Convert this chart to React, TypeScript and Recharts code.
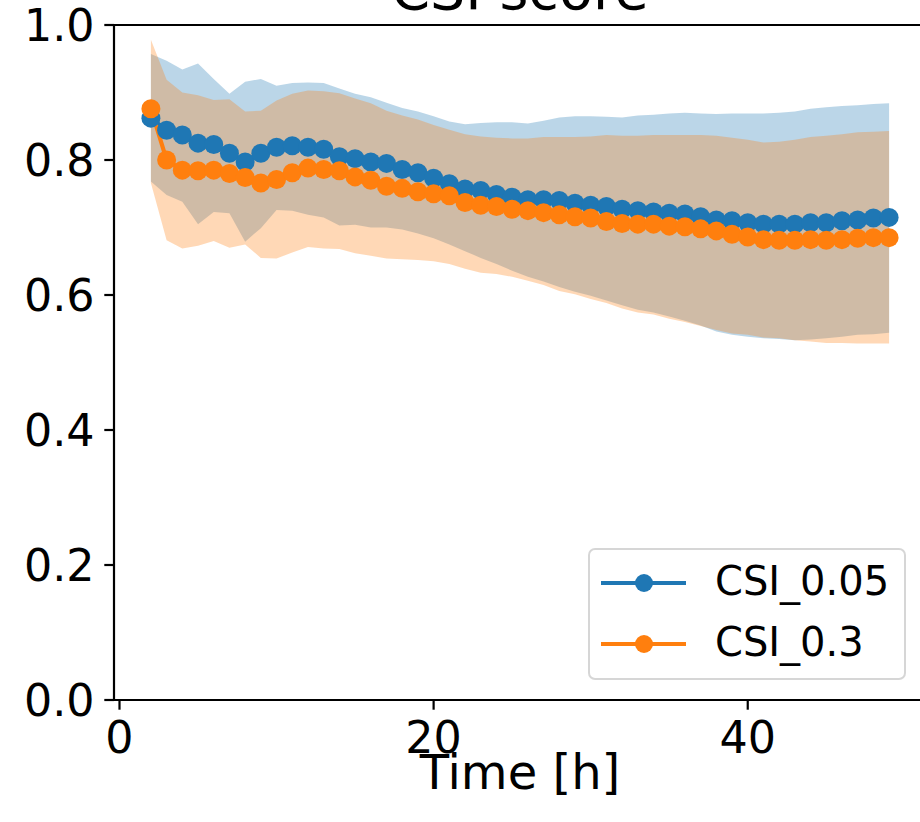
import {
  Area,
  ComposedChart,
  Label,
  Legend,
  Line,
  ReferenceLine,
  XAxis,
  YAxis,
} from "recharts";

// hours on the x axis (one point per hour)
const HOURS = [
  2, 3, 4, 5, 6, 7, 8, 9, 10, 11, 12, 13, 14, 15, 16, 17, 18, 19, 20, 21, 22, 23, 24, 25,
  26, 27, 28, 29, 30, 31, 32, 33, 34, 35, 36, 37, 38, 39, 40, 41, 42, 43, 44, 45, 46, 47,
  48, 49,
];

// CSI_0.05 mean and spread
const CSI_005 = [
  0.862, 0.844, 0.837, 0.825, 0.823, 0.81, 0.797, 0.81, 0.819, 0.821, 0.819, 0.816, 0.805,
  0.802, 0.797, 0.795, 0.786, 0.781, 0.773, 0.765, 0.757, 0.755, 0.749, 0.745, 0.741, 0.741,
  0.74, 0.736, 0.733, 0.731, 0.727, 0.725, 0.723, 0.721, 0.72, 0.716, 0.711, 0.71, 0.707,
  0.705, 0.705, 0.705, 0.707, 0.707, 0.71, 0.711, 0.714, 0.715,
];
const CSI_005_HIGH = [
  0.957, 0.947, 0.934, 0.943, 0.92, 0.898, 0.916, 0.92, 0.91, 0.914, 0.915, 0.914, 0.906,
  0.898, 0.893, 0.885, 0.877, 0.872, 0.865, 0.857, 0.853, 0.855, 0.856, 0.856, 0.854, 0.858,
  0.863, 0.865, 0.865, 0.864, 0.863, 0.866, 0.867, 0.869, 0.87, 0.869, 0.868, 0.869, 0.869,
  0.869, 0.87, 0.872, 0.876, 0.878, 0.88, 0.881, 0.883, 0.884,
];
const CSI_005_LOW = [
  0.768, 0.748, 0.738, 0.705, 0.723, 0.721, 0.679, 0.699, 0.726, 0.725, 0.719, 0.715, 0.703,
  0.704, 0.7, 0.7, 0.697, 0.691, 0.684, 0.675, 0.665, 0.655, 0.646, 0.636, 0.627, 0.62,
  0.612, 0.605, 0.599, 0.592, 0.585, 0.578, 0.574, 0.568, 0.562, 0.555, 0.546, 0.541, 0.538,
  0.536, 0.535, 0.533, 0.534, 0.536, 0.538, 0.541, 0.542, 0.544,
];

// CSI_0.3 mean and spread
const CSI_03 = [
  0.876, 0.8, 0.785, 0.784, 0.785, 0.78, 0.774, 0.766, 0.771, 0.781, 0.788, 0.786, 0.784,
  0.775, 0.77, 0.761, 0.758, 0.753, 0.75, 0.747, 0.737, 0.733, 0.731, 0.727, 0.725, 0.722,
  0.719, 0.716, 0.714, 0.709, 0.706, 0.705, 0.705, 0.702, 0.701, 0.698, 0.695, 0.69, 0.686,
  0.682, 0.681, 0.681, 0.682, 0.681, 0.682, 0.684, 0.685, 0.685,
];
const CSI_03_HIGH = [
  0.978, 0.919, 0.9, 0.896, 0.889, 0.89, 0.872, 0.873, 0.888, 0.898, 0.903, 0.902, 0.899,
  0.891, 0.884, 0.873, 0.866, 0.86, 0.852, 0.845, 0.838, 0.835, 0.833, 0.832, 0.832, 0.834,
  0.834, 0.834, 0.835, 0.837, 0.836, 0.836, 0.837, 0.837, 0.837, 0.837, 0.836, 0.833, 0.83,
  0.826, 0.827, 0.83, 0.834, 0.836, 0.838, 0.841, 0.842, 0.843,
];
const CSI_03_LOW = [
  0.766, 0.681, 0.669, 0.673, 0.68, 0.67, 0.675, 0.655, 0.654, 0.663, 0.671, 0.669, 0.668,
  0.662, 0.658, 0.654, 0.653, 0.652, 0.65, 0.646, 0.639, 0.633, 0.631, 0.627, 0.621, 0.615,
  0.606, 0.601, 0.594, 0.588, 0.58, 0.574, 0.571, 0.565, 0.56, 0.554, 0.548, 0.543, 0.541,
  0.537, 0.536, 0.533, 0.531, 0.529, 0.529, 0.528, 0.528, 0.528,
];

const X_TICKS = [0, 20, 40];
const Y_TICKS = [0, 0.2, 0.4, 0.6, 0.8, 1.0];

const BLUE = "#1f77b4";
const ORANGE = "#ff7f0e";
const FONT = "DejaVu Sans";
const DOT_R = 9.5;

const SERIES = [
  { name: "CSI_0.05", color: BLUE },
  { name: "CSI_0.3", color: ORANGE },
];

const data = HOURS.map((h, i) => ({
  hour: h,
  csi005: CSI_005[i],
  csi03: CSI_03[i],
  band005: [CSI_005_LOW[i], CSI_005_HIGH[i]],
  band03: [CSI_03_LOW[i], CSI_03_HIGH[i]],
}));

const tickStyle = { fill: "#000", fontSize: 44.4, fontFamily: FONT };
const axisStroke = { stroke: "#000", strokeWidth: 2.2 };

function LegendBox() {
  return (
    <div
      style={{
        position: "relative",
        boxSizing: "border-box",
        width: 318,
        height: 132,
        border: "2px solid rgba(204,204,204,0.8)",
        borderRadius: 7,
        background: "rgba(255,255,255,0.8)",
        fontFamily: FONT,
        fontSize: 40,
        color: "#000",
      }}
    >
      {SERIES.map((s, i) => (
        <div key={s.name}>
          <svg
            width={90}
            height={24}
            style={{ position: "absolute", left: 11, top: 21 + i * 61 }}
          >
            <line x1={0} y1={12} x2={85} y2={12} stroke={s.color} strokeWidth={4.2} />
            <circle cx={43} cy={12} r={9} fill={s.color} />
          </svg>
          <span
            style={{
              position: "absolute",
              left: 125,
              top: 8 + i * 61,
              lineHeight: "normal",
              whiteSpace: "nowrap",
            }}
          >
            {s.name}
          </span>
        </div>
      ))}
    </div>
  );
}

export default function App() {
  return (
    <div
      style={{
        position: "absolute",
        left: 0,
        top: 0,
        width: 920,
        height: 822,
        overflow: "hidden",
        background: "#fff",
      }}
    >
      <ComposedChart
        width={940}
        height={822}
        data={data}
        margin={{ top: 25, right: 14, bottom: 38, left: 14 }}
      >
        <XAxis
          dataKey="hour"
          type="number"
          domain={[-0.35, 51.35]}
          ticks={X_TICKS}
          interval={0}
          tick={tickStyle}
          tickSize={9.7}
          tickMargin={12}
          tickLine={axisStroke}
          axisLine={axisStroke}
          height={84}
        >
          <Label
            value="Time [h]"
            position="insideBottom"
            offset={-5}
            style={{ fill: "#000", fontSize: 48, fontFamily: FONT }}
          />
        </XAxis>
        <YAxis
          type="number"
          domain={[0, 1]}
          ticks={Y_TICKS}
          interval={0}
          tickFormatter={(v: number) => v.toFixed(1)}
          tick={tickStyle}
          tickSize={9.7}
          tickMargin={9.7}
          tickLine={axisStroke}
          axisLine={axisStroke}
          width={100}
        />
        <ReferenceLine y={1} stroke="#000" strokeWidth={2.2} ifOverflow="visible" />
        <ReferenceLine x={51.35} stroke="#000" strokeWidth={2.2} ifOverflow="visible" />
        <Area
          type="linear"
          dataKey="band005"
          stroke="none"
          fill={BLUE}
          fillOpacity={0.3}
          isAnimationActive={false}
          activeDot={false}
          legendType="none"
        />
        <Area
          type="linear"
          dataKey="band03"
          stroke="none"
          fill={ORANGE}
          fillOpacity={0.3}
          isAnimationActive={false}
          activeDot={false}
          legendType="none"
        />
        <Line
          type="linear"
          dataKey="csi005"
          name="CSI_0.05"
          stroke={BLUE}
          strokeWidth={4.2}
          dot={{ r: DOT_R, fill: BLUE, stroke: BLUE, strokeWidth: 0 }}
          activeDot={false}
          isAnimationActive={false}
        />
        <Line
          type="linear"
          dataKey="csi03"
          name="CSI_0.3"
          stroke={ORANGE}
          strokeWidth={4.2}
          dot={{ r: DOT_R, fill: ORANGE, stroke: ORANGE, strokeWidth: 0 }}
          activeDot={false}
          isAnimationActive={false}
        />
        <Legend
          layout="vertical"
          align="center"
          verticalAlign="middle"
          content={() => <LegendBox />}
          wrapperStyle={{ left: 588, top: 548, width: 318, height: 132 }}
        />
      </ComposedChart>
      <svg
        width={920}
        height={60}
        style={{ position: "absolute", left: 0, top: 0, pointerEvents: "none" }}
      >
        <text
          x={520}
          y={9}
          textAnchor="middle"
          fontFamily={FONT}
          fontSize={55.6}
          fill="#000"
        >
          CSI score
        </text>
      </svg>
    </div>
  );
}
